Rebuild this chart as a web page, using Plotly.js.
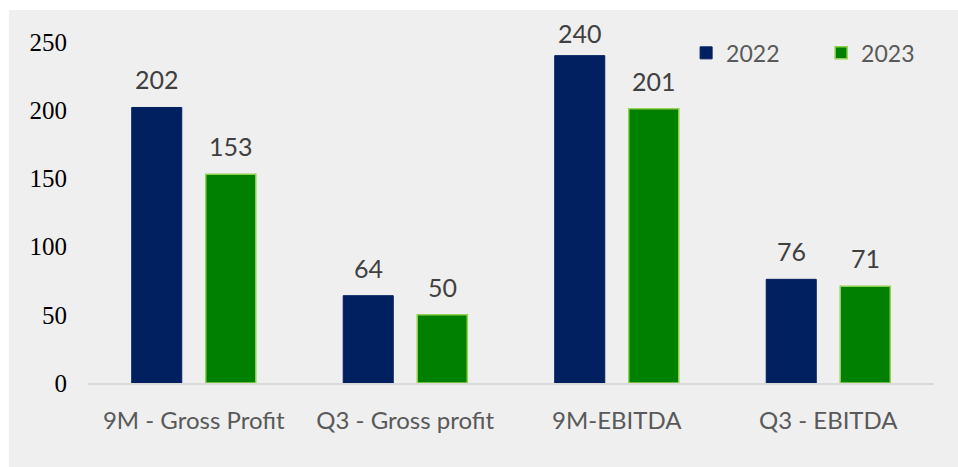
<!DOCTYPE html>
<html>
<head>
<meta charset="utf-8">
<script src="https://cdn.plot.ly/plotly-3.0.1.min.js"></script>
<style>
  html, body { margin: 0; padding: 0; background: #ffffff; overflow: hidden; }
  #chart { position: absolute; left: 9px; top: 10px; width: 960px; height: 470px; }
</style>
</head>
<body>
<div id="chart"></div>
<script>
// categories and values
const categories = ['9M - Gross Profit', 'Q3 - Gross profit', '9M-EBITDA', 'Q3 - EBITDA'];
const values2022 = [202, 64, 240, 76];
const values2023 = [153, 50, 201, 71];
const yTicks = [0, 50, 100, 150, 200, 250];

const navy = '#002060';
const green = '#008000';

const traces = [
    {
        x: categories, y: values2022, type: 'bar', name: '2022',
        marker: {color: navy, line: {color: navy, width: 1}},
        hoverinfo: 'skip'
    },
    {
        x: categories, y: values2023, type: 'bar', name: '2023',
        marker: {color: green, line: {color: '#92d050', width: 1.5}},
        hoverinfo: 'skip'
    }
];

// value labels above each bar (the tallest one is squeezed under the top, as in the original)
const annotations = [];
[[values2022, -37], [values2023, 37]].forEach(([vals, shift]) => {
    vals.forEach((v, i) => {
        annotations.push({
            x: categories[i], y: v, xref: 'x', yref: 'y',
            text: String(v), showarrow: false,
            xshift: shift, yshift: v > 230 ? 6 : 11, yanchor: 'bottom',
            font: {family: 'Lato, sans-serif', size: 25, color: '#404040'}
        });
    });
});

const layout = {
    width: 960, height: 470,
    paper_bgcolor: '#efefef', plot_bgcolor: '#efefef',
    margin: {l: 79, r: 35, t: 32, b: 97},
    barmode: 'group', bargap: 0.30, bargroupgap: 0.324,
    showlegend: true,
    legend: {
        orientation: 'h', x: 0.707, y: 0.968, xanchor: 'left', yanchor: 'middle',
        bgcolor: 'rgba(0,0,0,0)', entrywidth: 90, entrywidthmode: 'pixels',
        font: {family: 'Lato, sans-serif', size: 23, color: '#595959'}
    },
    xaxis: {
        type: 'category', showgrid: false, zeroline: false,
        showline: true, linecolor: '#d9d9d9', linewidth: 1.5,
        ticks: '', ticklabelstandoff: 16,
        tickfont: {family: 'Lato, sans-serif', size: 24, color: '#595959'}
    },
    yaxis: {
        range: [0, 250], tickvals: yTicks, showgrid: false, zeroline: false,
        showline: false, ticks: '', ticklabelstandoff: 20,
        tickfont: {family: '"Liberation Serif", serif', size: 25, color: '#000000'}
    },
    annotations: annotations
};

Plotly.newPlot('chart', traces, layout, {displayModeBar: false, staticPlot: true});
</script>
</body>
</html>
